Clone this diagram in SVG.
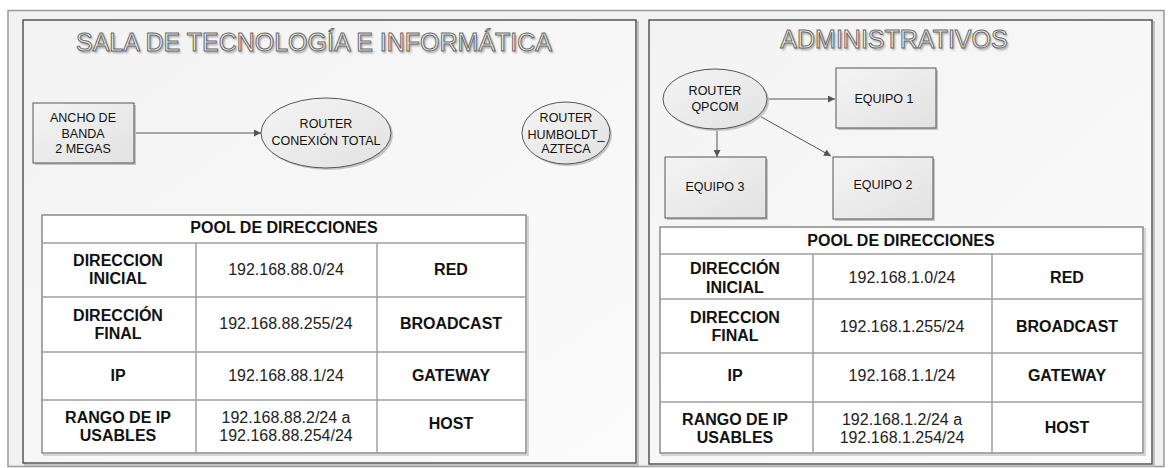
<svg xmlns="http://www.w3.org/2000/svg" width="1168" height="468" viewBox="0 0 1168 468">
<defs>
<linearGradient id="panelG" x1="0" y1="0" x2="1" y2="1">
<stop offset="0" stop-color="#f3f3f3"/>
<stop offset="1" stop-color="#fbfbfb"/>
</linearGradient>
<linearGradient id="nodeG" x1="0" y1="0" x2="1" y2="1">
<stop offset="0" stop-color="#f4f4f4"/>
<stop offset="1" stop-color="#e2e2e2"/>
</linearGradient>
<filter id="blur" x="-5%" y="-20%" width="110%" height="140%">
<feGaussianBlur stdDeviation="1"/>
</filter>
<marker id="arr" viewBox="0 0 10 10" refX="10" refY="5" markerWidth="7" markerHeight="7" orient="auto" markerUnits="userSpaceOnUse">
<path d="M0,0 L10,5 L0,10 z" fill="#555"/>
</marker>
<style>
.panel{fill:url(#panelG);stroke:#555;stroke-width:1.5}
.pshadow{fill:none;stroke:#b5b5b5;stroke-width:1.5}
.node{fill:url(#nodeG);stroke:#555;stroke-width:1}
.nshadow{fill:#c4c4c4}
.nt{font-family:"Liberation Sans",Arial,sans-serif;font-size:12.5px;fill:#111;text-anchor:middle}
.title{font-family:"Liberation Sans",Arial,sans-serif;font-size:25px;fill:#f2f2f2;stroke:#6a6a6a;stroke-width:1;text-anchor:middle}
.tshadow{font-family:"Liberation Sans",Arial,sans-serif;font-size:25px;fill:#999;text-anchor:middle}
.tbl{fill:#fff;stroke:#8a8a8a;stroke-width:1.5}
.tshad{fill:none;stroke:#c8c8c8;stroke-width:1.5}
.grid{stroke:#a0a0a0;stroke-width:1.5;fill:none}
.b{font-family:"Liberation Sans",Arial,sans-serif;font-size:16px;font-weight:bold;fill:#111;text-anchor:middle}
.r{font-family:"Liberation Sans",Arial,sans-serif;font-size:16px;fill:#222;text-anchor:middle}
.conn{stroke:#555;stroke-width:1;fill:none;marker-end:url(#arr)}
</style>
</defs>
<rect x="0" y="0" width="1168" height="468" fill="#ffffff"/>
<rect x="8" y="10.5" width="1156" height="456" fill="#f1f1f1" stroke="#9a9a9a" stroke-width="1.5"/>

<!-- Panel 1 -->
<g id="panel-sala">
<rect class="pshadow" x="25" y="22" width="613" height="443"/>
<rect class="panel" x="23" y="20" width="613" height="443"/>
<text class="tshadow" x="315.5" y="53" filter="url(#blur)">SALA DE TECNOLOGÍA E INFORMÁTICA</text>
<text class="title" x="314" y="51">SALA DE TECNOLOGÍA E INFORMÁTICA</text>
</g>

<!-- Panel 2 -->
<g id="panel-admin">
<rect class="pshadow" x="651" y="22" width="503" height="444"/>
<rect class="panel" x="649" y="20" width="503" height="444"/>
<text class="tshadow" x="895.5" y="50" filter="url(#blur)">ADMINISTRATIVOS</text>
<text class="title" x="894" y="48">ADMINISTRATIVOS</text>
</g>

<!-- Connectors -->
<g id="connectors">
<line class="conn" x1="134" y1="133" x2="261" y2="133"/>
<line class="conn" x1="768" y1="99" x2="835" y2="99"/>
<line class="conn" x1="717" y1="129" x2="717" y2="157"/>
<line class="conn" x1="756" y1="114" x2="831" y2="156"/>
</g>

<!-- Nodes left -->
<g id="node-ancho">
<rect class="nshadow" x="35" y="105" width="101" height="60"/>
<rect class="node" x="33" y="103" width="101" height="60"/>
<text class="nt" x="83" y="121.5">ANCHO DE</text>
<text class="nt" x="83" y="137.5">BANDA</text>
<text class="nt" x="83" y="153">2 MEGAS</text>
</g>
<g id="node-router-conexion">
<ellipse class="nshadow" cx="328" cy="135" rx="65" ry="35"/>
<ellipse class="node" cx="326" cy="133" rx="65" ry="35"/>
<text class="nt" x="326" y="128">ROUTER</text>
<text class="nt" x="326" y="144.5">CONEXIÓN TOTAL</text>
</g>
<g id="node-router-humboldt">
<ellipse class="nshadow" cx="568" cy="135" rx="44" ry="31"/>
<ellipse class="node" cx="566" cy="133" rx="44" ry="31"/>
<text class="nt" x="566" y="121.5">ROUTER</text>
<text class="nt" x="566" y="139">HUMBOLDT_</text>
<text class="nt" x="566" y="153">AZTECA</text>
</g>

<!-- Nodes right -->
<g id="node-router-qpcom">
<ellipse class="nshadow" cx="717" cy="101" rx="52" ry="30"/>
<ellipse class="node" cx="715" cy="99" rx="52" ry="30"/>
<text class="nt" x="715" y="94.5">ROUTER</text>
<text class="nt" x="715" y="110.5">QPCOM</text>
</g>
<g id="node-equipo1">
<rect class="nshadow" x="838" y="70" width="100" height="60"/>
<rect class="node" x="836" y="68" width="100" height="60"/>
<text class="nt" x="884" y="102.5">EQUIPO 1</text>
</g>
<g id="node-equipo3">
<rect class="nshadow" x="667" y="159" width="101" height="61"/>
<rect class="node" x="665" y="157" width="101" height="61"/>
<text class="nt" x="715" y="190.5">EQUIPO 3</text>
</g>
<g id="node-equipo2">
<rect class="nshadow" x="835" y="159" width="100" height="62"/>
<rect class="node" x="833" y="157" width="100" height="62"/>
<text class="nt" x="883" y="188.5">EQUIPO 2</text>
</g>

<!-- Table left -->
<g id="table-sala">
<rect class="tshad" x="44" y="217" width="484" height="238"/>
<rect class="tbl" x="42" y="215" width="484" height="238"/>
<path class="grid" d="M42,243 H526 M42,297 H526 M42,352 H526 M42,400 H526 M196,243 V453 M377,243 V453"/>
<text class="b" x="284" y="232.5">POOL DE DIRECCIONES</text>
<text class="b" x="118" y="266">DIRECCION</text>
<text class="b" x="118" y="284">INICIAL</text>
<text class="r" x="286" y="275">192.168.88.0/24</text>
<text class="b" x="451" y="275">RED</text>
<text class="b" x="118" y="321">DIRECCIÓN</text>
<text class="b" x="118" y="339">FINAL</text>
<text class="r" x="286" y="329">192.168.88.255/24</text>
<text class="b" x="451" y="329">BROADCAST</text>
<text class="b" x="118" y="381">IP</text>
<text class="r" x="286" y="381">192.168.88.1/24</text>
<text class="b" x="451" y="381">GATEWAY</text>
<text class="b" x="118" y="423">RANGO DE IP</text>
<text class="b" x="118" y="441">USABLES</text>
<text class="r" x="286" y="423">192.168.88.2/24 a</text>
<text class="r" x="286" y="441">192.168.88.254/24</text>
<text class="b" x="451" y="429">HOST</text>
</g>

<!-- Table right -->
<g id="table-admin">
<rect class="tshad" x="662" y="229" width="483" height="226"/>
<rect class="tbl" x="660" y="227" width="483" height="226"/>
<path class="grid" d="M660,254 H1143 M660,299 H1143 M660,353 H1143 M660,402 H1143 M813,254 V453 M992,254 V453"/>
<text class="b" x="901" y="245.5">POOL DE DIRECCIONES</text>
<text class="b" x="735" y="274">DIRECCIÓN</text>
<text class="b" x="735" y="293">INICIAL</text>
<text class="r" x="902" y="283">192.168.1.0/24</text>
<text class="b" x="1067" y="283">RED</text>
<text class="b" x="735" y="323">DIRECCION</text>
<text class="b" x="735" y="341">FINAL</text>
<text class="r" x="902" y="332">192.168.1.255/24</text>
<text class="b" x="1067" y="332">BROADCAST</text>
<text class="b" x="735" y="381">IP</text>
<text class="r" x="902" y="381">192.168.1.1/24</text>
<text class="b" x="1067" y="381">GATEWAY</text>
<text class="b" x="735" y="425">RANGO DE IP</text>
<text class="b" x="735" y="443">USABLES</text>
<text class="r" x="902" y="425">192.168.1.2/24 a</text>
<text class="r" x="902" y="443">192.168.1.254/24</text>
<text class="b" x="1067" y="433">HOST</text>
</g>
</svg>
